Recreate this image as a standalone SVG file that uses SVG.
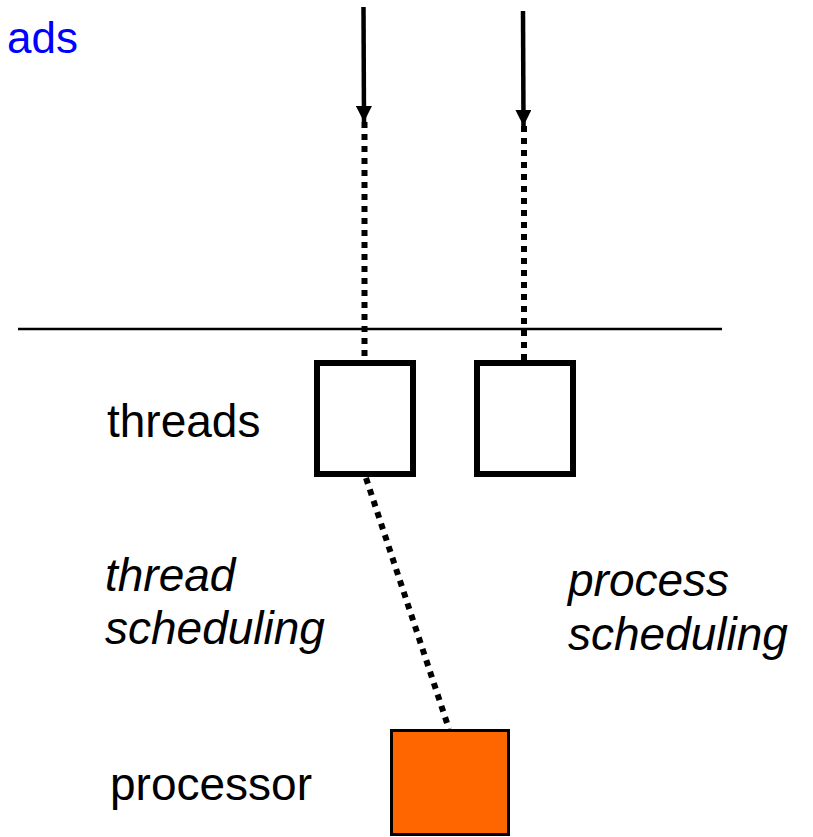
<svg xmlns="http://www.w3.org/2000/svg" width="813" height="837" viewBox="0 0 813 837">
<defs>
<style>
text{font-family:"Liberation Sans",Arial,sans-serif;font-size:46px;fill:#000}
.it{font-style:italic}
.box{fill:#fff;stroke:#000;stroke-width:6}
.dot{stroke:#000;stroke-width:6;stroke-dasharray:6 6;fill:none}
.solid{stroke:#000;stroke-width:4.5;fill:none}
</style>
<marker id="ah" viewBox="0 0 10 10" refX="10" refY="5" markerWidth="16" markerHeight="16" markerUnits="userSpaceOnUse" orient="auto">
<path d="M0,0 L10,5 L0,10 Z" fill="#000"/>
</marker>
</defs>
<rect width="813" height="837" fill="#fff"/>
<text x="7" y="53" style="fill:#0000FF;font-size:44px">ads</text>
<g id="connectors">
<line x1="18" y1="329" x2="722" y2="329" stroke="#000" stroke-width="2.5"/>
<line class="solid" x1="363.5" y1="7" x2="364" y2="122" marker-end="url(#ah)"/>
<line class="solid" x1="523" y1="11" x2="523.5" y2="126" marker-end="url(#ah)"/>
<line class="dot" x1="364.5" y1="122" x2="364.5" y2="360"/>
<line class="dot" x1="524" y1="126" x2="524" y2="360"/>
<line class="dot" x1="366" y1="478" x2="449" y2="729"/>
</g>
<g id="thread1"><rect class="box" x="317" y="363" width="96" height="111"/></g>
<g id="thread2"><rect class="box" x="477" y="363" width="96" height="111"/></g>
<g id="processor"><rect x="391.5" y="730.5" width="117" height="104" fill="#FF6600" stroke="#000" stroke-width="3"/></g>
<g id="labels">
<text x="107" y="437">threads</text>
<text x="110" y="800">processor</text>
<text class="it" x="105" y="591">thread</text>
<text class="it" x="105" y="644">scheduling</text>
<text class="it" x="568" y="596">process</text>
<text class="it" x="568" y="650">scheduling</text>
</g>
</svg>
